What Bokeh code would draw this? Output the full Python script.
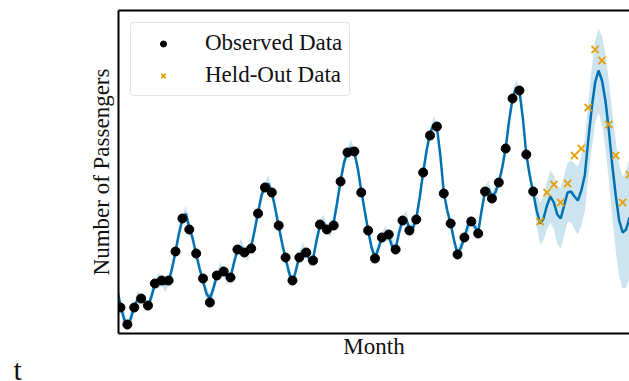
import numpy as np
from bokeh.plotting import figure
from bokeh.models import (Range1d, LinearAxis, FixedTicker, Legend, LegendItem,
                          Label, ColumnDataSource)
from bokeh.embed import file_html
from bokeh.resources import INLINE

# ---------------- data ----------------
obs_month = list(range(0, 61))
obs_passengers = [106, 72, 106, 124, 110, 154, 160, 160, 218, 284,
                  262, 214, 164, 116, 170, 178, 166, 222, 216, 224,
                  294, 346, 336, 270, 206, 160, 206, 216, 200, 272,
                  262, 270, 358, 416, 418, 336, 260, 204, 246, 252,
                  222, 280, 260, 282, 376, 450, 468, 334, 274, 212,
                  246, 278, 254, 338, 324, 356, 424, 524, 540, 412,
                  338]

held_month = list(range(61, 75))
held_passengers = [278, 336, 352, 316, 354, 410, 424, 506, 622, 600,
                   472, 410, 316, 372]

# GP posterior, read at half-month steps from -0.5 to 74
fit_month = list(np.arange(-0.5, 74.01, 0.5))
fit_mean = [144,
            110, 84, 68, 84, 108, 122, 124, 116, 108, 128,
            152, 160, 158, 152, 158, 184, 218, 254, 282, 294,
            266, 244, 212, 184, 158, 134, 124, 144, 168, 180,
            178, 168, 166, 196, 220, 228, 218, 214, 228, 260,
            296, 330, 350, 354, 336, 304, 268, 234, 204, 176,
            156, 180, 208, 220, 214, 202, 204, 240, 270, 276,
            264, 264, 276, 316, 360, 396, 416, 426, 416, 384,
            340, 300, 260, 226, 206, 224, 246, 254, 248, 228,
            224, 256, 280, 284, 264, 264, 284, 326, 376, 420,
            454, 472, 466, 410, 336, 300, 274, 240, 214, 226,
            246, 270, 280, 268, 256, 300, 338, 344, 328, 336,
            356, 386, 424, 480, 524, 546, 540, 484, 412, 370,
            336, 300, 274, 284, 310, 328, 316, 292, 284, 310,
            336, 338, 328, 320, 340, 370, 440, 504, 556, 580,
            560, 520, 460, 390, 330, 280, 256, 262, 286]
fit_halfwidth = [24,
                 10, 18, 8, 16, 8, 16, 8, 16, 8, 14,
                 8, 16, 8, 16, 8, 14, 8, 14, 8, 16,
                 8, 14, 8, 14, 8, 14, 8, 14, 8, 16,
                 8, 16, 8, 14, 8, 16, 8, 16, 8, 14,
                 8, 14, 8, 16, 8, 14, 8, 14, 8, 14,
                 8, 14, 8, 16, 8, 16, 8, 14, 8, 16,
                 8, 16, 8, 14, 8, 14, 8, 16, 8, 14,
                 8, 14, 8, 14, 8, 14, 8, 16, 8, 16,
                 8, 14, 8, 16, 8, 16, 8, 14, 8, 14,
                 8, 16, 8, 14, 8, 14, 8, 14, 8, 14,
                 8, 16, 8, 16, 8, 14, 8, 16, 8, 16,
                 8, 14, 8, 14, 8, 16, 8, 14, 8, 14,
                 10, 30, 42, 44, 48, 52, 54, 58, 60, 60,
                 60, 62, 66, 68, 70, 72, 76, 80, 82, 84,
                 88, 94, 100, 106, 110, 112, 112, 116, 120]

# ---------------- figure ----------------
FONT = "Liberation Serif"
TXT = "#111111"
p = figure(width=629, height=381, output_backend="svg", toolbar_location=None,
           x_range=Range1d(-0.29, 74.0), y_range=Range1d(54, 700),
           min_border_left=118, min_border_right=0, min_border_top=10,
           min_border_bottom=48, background_fill_color="white",
           border_fill_color="white")
p.outline_line_color = None
p.grid.visible = False

fit_src = ColumnDataSource(dict(
    t=fit_month,
    lo=[m - h for m, h in zip(fit_mean, fit_halfwidth)],
    hi=[m + h for m, h in zip(fit_mean, fit_halfwidth)],
    mean=fit_mean))

p.varea(x="t", y1="lo", y2="hi", source=fit_src, fill_color="#0072B2",
        fill_alpha=0.2)
p.line(x="t", y="mean", source=fit_src, line_color="#0072B2", line_width=2.5)

r_obs = p.scatter(obs_month, obs_passengers, marker="circle", size=9,
                  fill_color="black", line_color="black")
r_held = p.scatter(held_month, held_passengers, marker="x", size=10,
                   line_color="#E69F00", line_width=1.8)

# axes: no ticks, frame lines on left/bottom/top
for ax in (p.xaxis[0], p.yaxis[0]):
    ax.ticker = FixedTicker(ticks=[])
    ax.major_tick_line_color = None
    ax.minor_tick_line_color = None
    ax.major_label_text_font_size = "0px"
    ax.axis_line_color = "black"
    ax.axis_line_width = 2
    ax.axis_label_text_font = FONT
    ax.axis_label_text_font_size = "23px"
    ax.axis_label_text_font_style = "normal"
    ax.axis_label_text_color = TXT
    ax.major_tick_out = 0
    ax.major_label_standoff = 0

p.xaxis.axis_label = "Month"
p.xaxis.axis_label_standoff = 0
p.yaxis.axis_label = "Number of Passengers"
p.yaxis.axis_label_standoff = 5

top = LinearAxis(ticker=FixedTicker(ticks=[]), axis_line_color="black",
                 axis_line_width=2, major_tick_line_color=None,
                 minor_tick_line_color=None, major_label_text_font_size="0px",
                 major_tick_out=0, major_label_standoff=0)
p.add_layout(top, "above")

legend = Legend(items=[LegendItem(label="Observed Data", renderers=[r_obs]),
                       LegendItem(label="Held-Out Data", renderers=[r_held])],
                location="top_left", margin=12, padding=7, spacing=6,
                glyph_width=50, glyph_height=15, label_height=24,
                label_standoff=17, label_text_font=FONT,
                label_text_font_size="23px", label_text_color=TXT,
                border_line_color="#cccccc", border_line_width=1,
                background_fill_alpha=0.8, border_radius=4)
p.add_layout(legend)

# stray "t" below the plot, placed in a side panel so it is not clipped
p.add_layout(Label(x=-15.56, y=-18, text="t", text_font=FONT,
                   text_font_size="30px", text_baseline="alphabetic",
                   text_color=TXT), "left")

open("out.html", "w").write(file_html(p, INLINE))
